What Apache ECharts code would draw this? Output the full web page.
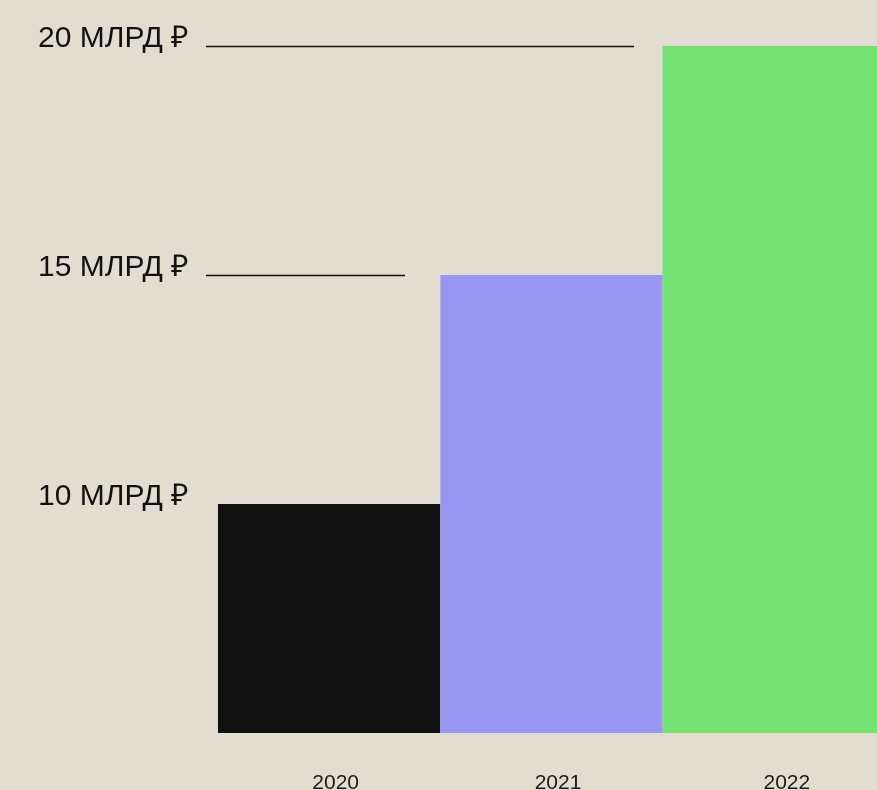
<!DOCTYPE html>
<html><head><meta charset="utf-8">
<style>html,body{margin:0;padding:0;background:#e2ddd0;}#c{width:877px;height:790px;}</style>
<script src="https://cdn.jsdelivr.net/npm/echarts@6/dist/echarts.min.js"></script>
</head><body><div id="c"></div>
<script>
const categories = ['2020', '2021', '2022'];
const values = [10, 15, 20];
const barColors = ['#111111', '#9b96f2', '#74e272'];
const yTicks = [10, 15, 20];
const unitLabel = ' МЛРД ₽';
const guideLines = [ {value: 15, x0: 206, x1: 405}, {value: 20, x0: 206, x1: 634} ];
const labelShift = [13, 13, 26];

const chart = echarts.init(document.getElementById('c'), null, {renderer: 'canvas'});
chart.setOption({
  backgroundColor: '#e2ddd0',
  animation: false,
  grid: {left: 218, right: -8, top: 46, bottom: 57, containLabel: false, outerBoundsMode: 'none'},
  xAxis: {
    type: 'category', data: categories,
    axisLine: {show: false}, axisTick: {show: false},
    axisLabel: {
      margin: 40, color: '#1a1a1a', fontFamily: 'Liberation Sans', fontSize: 21,
      formatter: (v, i) => '{s' + i + '|' + v + '}',
      rich: Object.fromEntries(labelShift.map((p, i) => ['s' + i, {padding: [0, 0, 0, p], fontFamily: 'Liberation Sans', fontSize: 21, color: '#1a1a1a'}]))
    }
  },
  yAxis: {
    type: 'value', min: 5, max: 20, interval: 5,
    splitLine: {show: false}, axisLine: {show: false}, axisTick: {show: false},
    axisLabel: {
      showMinLabel: false,
      align: 'left', verticalAlign: 'bottom', margin: 180,
      color: '#111111', fontFamily: 'Liberation Sans', fontSize: 30, lineHeight: 30,
      padding: [0, 0, -8, 0],
      formatter: v => yTicks.includes(v) ? v + unitLabel : ''
    }
  },
  series: [{
    type: 'bar', barCategoryGap: '0%',
    data: values.map((v, i) => ({value: v, itemStyle: {color: barColors[i]}})),
    markLine: {
      silent: true, symbol: 'none', label: {show: false},
      lineStyle: {color: '#111111', width: 1.3, type: 'solid'},
      data: guideLines.map(g => [{x: g.x0, yAxis: g.value}, {x: g.x1, yAxis: g.value}])
    }
  }]
});
</script></body></html>
